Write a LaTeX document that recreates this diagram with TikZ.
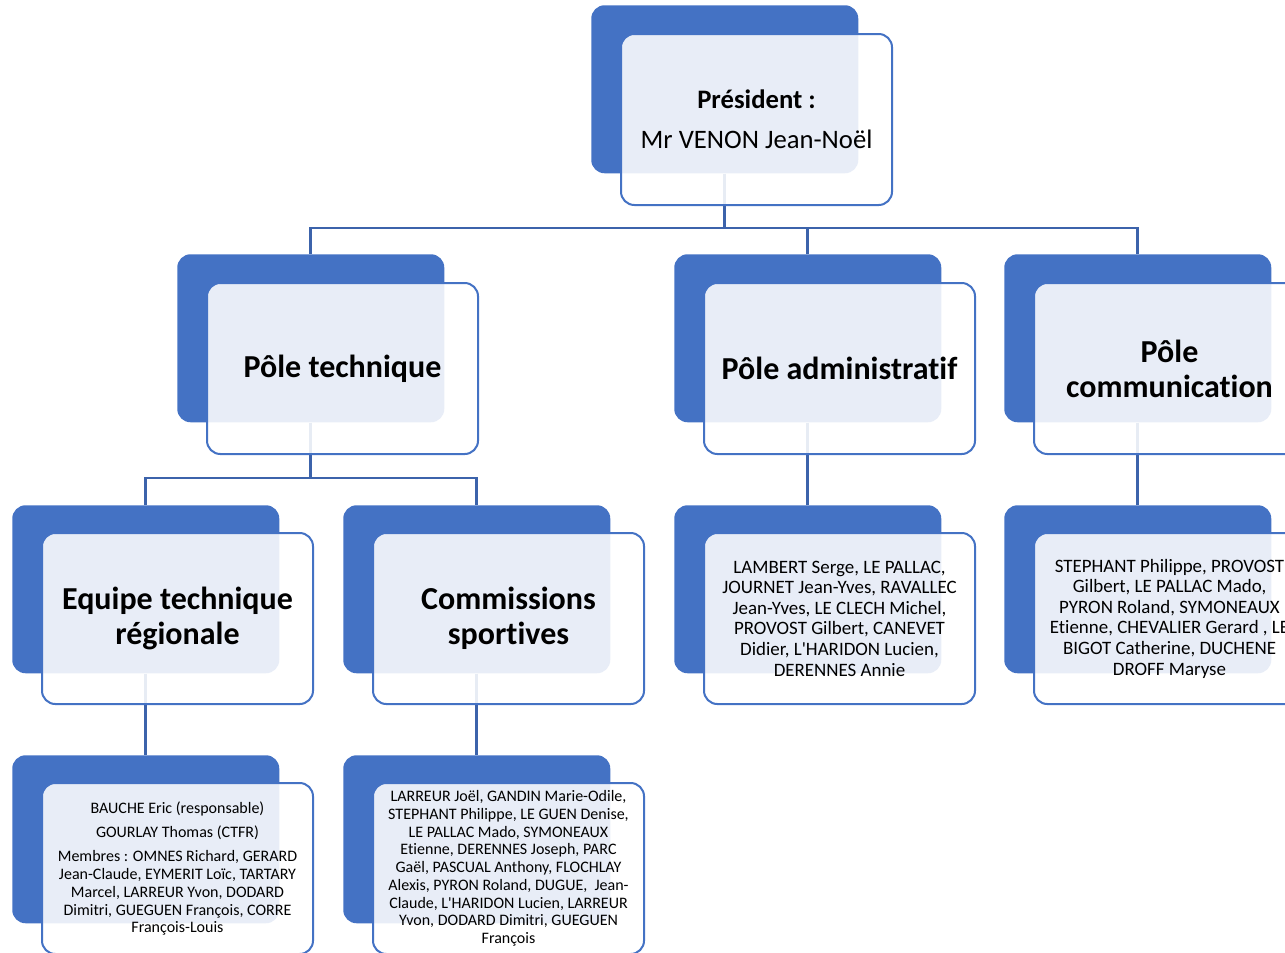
\documentclass[tikz,border=0pt]{standalone}
\usepackage{fontspec}
\setmainfont{Carlito}[Ligatures={NoCommon}]
\definecolor{acc}{HTML}{4472C4}
\definecolor{conn}{HTML}{3C63AB}
\pgfdeclarelayer{bg}
\pgfsetlayers{bg,main}
\begin{document}
\begin{tikzpicture}[x=0.75pt,y=-0.75pt,
  backbox/.style={fill=acc, rounded corners=10pt, minimum width=200.25pt, minimum height=126pt, inner sep=0pt, anchor=north west},
  frontbox/.style={draw=acc, line width=1.5pt, fill=white, fill opacity=0.88, text opacity=1, rounded corners=10pt, minimum width=203.25pt, minimum height=128.25pt, inner sep=0pt, anchor=north west, align=center},
  big/.style={font=\fontsize{24}{26.25}\selectfont\bfseries},
  pres/.style={font=\fontsize{20}{22}\selectfont},
  mid/.style={font=\fontsize{14.2}{15.45}\selectfont},
  small/.style={font=\fontsize{12}{13.3}\selectfont},
  link/.style={draw=conn, line width=2pt}]
\useasboundingbox (0,0) rectangle (1285,953);
\clip (0,0) rectangle (1285,953);

\node[backbox] (presB) at (591,5) {};
\node[frontbox, pres] (presF) at (620,33) {\textbf{Président :}\\[8pt]Mr VENON Jean-Noël};

\node[backbox] (techB) at (177,254) {};
\node[frontbox, big] (techF) at (206,282) {Pôle technique};

\node[backbox] (admB) at (674,254) {};
\node[frontbox, big] (admF) at (703,282) {Pôle administratif};

\node[backbox] (comB) at (1004,254) {};
\node[frontbox, big] (comF) at (1033,282) {Pôle\\communication};

\node[backbox] (etrB) at (12,505) {};
\node[frontbox, big] (etrF) at (41,532) {Equipe technique\\régionale};

\node[backbox] (csB) at (343,505) {};
\node[frontbox, big] (csF) at (372,532) {Commissions\\sportives};

\node[backbox] (admMB) at (674,505) {};
\node[frontbox, mid] (admMF) at (703,532) {LAMBERT Serge, LE PALLAC,\\JOURNET Jean-Yves, RAVALLEC\\Jean-Yves, LE CLECH Michel,\\PROVOST Gilbert, CANEVET\\Didier, L\textquotesingle HARIDON Lucien,\\DERENNES Annie};

\node[backbox] (comMB) at (1004,505) {};
\node[frontbox, mid] (comMF) at (1033,532) {STEPHANT Philippe, PROVOST\\Gilbert, LE PALLAC Mado,\\PYRON Roland, SYMONEAUX\\Etienne, CHEVALIER Gerard , LE\\BIGOT Catherine, DUCHENE\\DROFF Maryse};

\node[backbox] (etrMB) at (12,755) {};
\node[frontbox, small] (etrMF) at (41,782) {BAUCHE Eric (responsable)\\[5pt]GOURLAY Thomas (CTFR)\\[5pt]Membres : OMNES Richard, GERARD\\Jean-Claude, EYMERIT Loïc, TARTARY\\Marcel, LARREUR Yvon, DODARD\\Dimitri, GUEGUEN François, CORRE\\François-Louis};

\node[backbox] (csMB) at (343,755) {};
\node[frontbox, small] (csMF) at (372,782) {LARREUR Joël, GANDIN Marie-Odile,\\STEPHANT Philippe, LE GUEN Denise,\\LE PALLAC Mado, SYMONEAUX\\Etienne, DERENNES Joseph, PARC\\Gaël, PASCUAL Anthony, FLOCHLAY\\Alexis, PYRON Roland, DUGUE,~ Jean-\\Claude, L\textquotesingle HARIDON Lucien, LARREUR\\Yvon, DODARD Dimitri, GUEGUEN\\François};

\coordinate (j1) at (0,228);
\coordinate (j2) at (0,478);

\begin{pgfonlayer}{bg}
\draw[link] (presB.south) -- (presB.south |- j1);
\draw[link] (techB.north) |- (j1 -| comB.north) -- (comB.north);
\draw[link] (admB.north) -- (admB.north |- j1);
\draw[link] (techB.south) -- (techB.south |- j2);
\draw[link] (etrB.north) |- (j2 -| csB.north) -- (csB.north);
\draw[link] (admB.south) -- (admMB.north);
\draw[link] (comB.south) -- (comMB.north);
\draw[link] (etrB.south) -- (etrMB.north);
\draw[link] (csB.south) -- (csMB.north);
\end{pgfonlayer}
\end{tikzpicture}
\end{document}
